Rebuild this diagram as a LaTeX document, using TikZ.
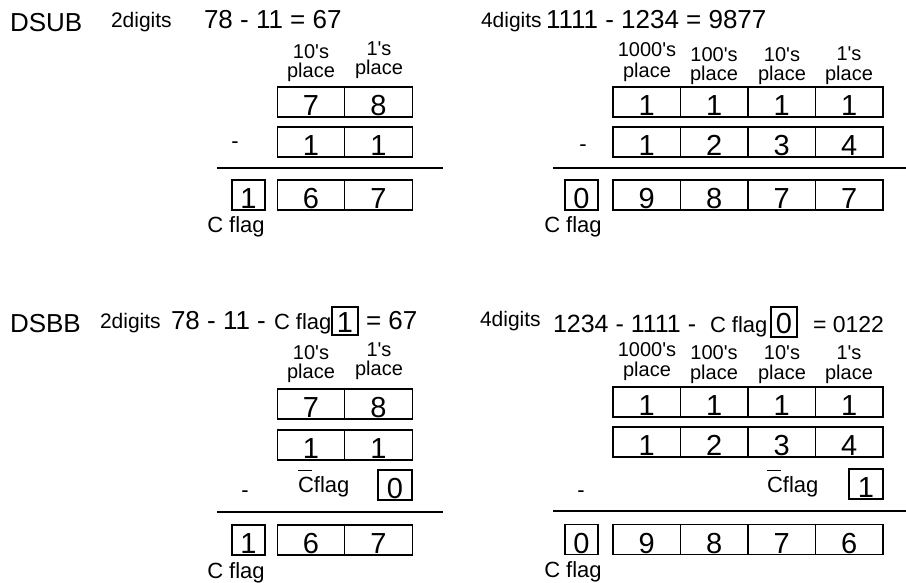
\documentclass[tikz,border=0pt]{standalone}
\usepackage{fontspec}
\setmainfont{Liberation Sans}[Ligatures=TeXOff]
\begin{document}
\begin{tikzpicture}[x=1pt,y=-1pt,
  t/.style={inner sep=0pt, outer sep=0pt},
  big/.style={t, font=\fontsize{26}{30}\selectfont},
  small/.style={t, font=\fontsize{22}{25}\selectfont},
  digl/.style={t, anchor=base west, font=\fontsize{21}{25}\selectfont},
  lab/.style={t, anchor=base, font=\fontsize{20}{24}\selectfont},
  cell/.style={draw, line width=1.4pt, minimum width=67.5pt, minimum height=30pt, inner sep=0pt,
    text height=27.5pt, text depth=0pt, font=\fontsize{29}{30}\selectfont},
  cbox/.style={cell, minimum width=33pt},
  ebox/.style={draw, line width=1.4pt, minimum width=26pt, inner sep=0pt,
    text height=22pt, text depth=0pt, font=\fontsize{29}{30}\selectfont},
  rulel/.style={line width=1.6pt},
  bartext/.style={small, anchor=base west}
]
\useasboundingbox (0,0) rectangle (906,583);
\fill[white] (0,0) rectangle (906,583);
\newcommand{\barC}{\rlap{\raisebox{21pt}{\rule{14pt}{0.8pt}}}C}

% ---------------- top left: DSUB 2 digits ----------------
\node[big, anchor=base west] (dsub) at (10,32) {DSUB};
\node[digl] (dga) at (111,28) {2digits};
\node[big, anchor=base west] (eqa) at (204,29) {78 - 11 = 67};
\node[lab] (la1) at (311,59) {10's};
\node[lab] (la1p) at (311,78) {place};
\node[lab] (la2) at (379,56) {1's};
\node[lab] (la2p) at (379,75) {place};
\node[cell] (a11) at (311,102) {7};
\node[cell] (a12) at (378.5,102) {8};
\node[cell] (a21) at (311,142) {1};
\node[cell] (a22) at (378.5,142) {1};
\node[small, anchor=base] (ma) at (235,148.5) {-};
\coordinate (ra1) at (217,168);
\coordinate (ra2) at (443,168);
\draw[rulel] (ra1) -- (ra2);
\node[cbox] (ac) at (248.5,195) {1};
\node[cell] (a31) at (311,195) {6};
\node[cell] (a32) at (378.5,195) {7};
\node[small, anchor=base] (acf) at (236,233) {C flag};

% ---------------- top right: DSUB 4 digits ----------------
\node[digl] (dgb) at (481,28) {4digits};
\node[big, anchor=base west] (eqb) at (546,29) {1111 - 1234 = 9877};
\node[lab] (lb1) at (647,57) {1000's};
\node[lab] (lb1p) at (647,78) {place};
\node[lab] (lb2) at (714,62) {100's};
\node[lab] (lb2p) at (714,81) {place};
\node[lab] (lb3) at (782,62) {10's};
\node[lab] (lb3p) at (782,81) {place};
\node[lab] (lb4) at (849,61) {1's};
\node[lab] (lb4p) at (849,81) {place};
\node[cell] (b11) at (646.75,102) {1};
\node[cell] (b12) at (714.25,102) {1};
\node[cell] (b13) at (781.75,102) {1};
\node[cell] (b14) at (849.25,102) {1};
\node[cell] (b21) at (646.75,142) {1};
\node[cell] (b22) at (714.25,142) {2};
\node[cell] (b23) at (781.75,142) {3};
\node[cell] (b24) at (849.25,142) {4};
\node[small, anchor=base] (mb) at (583,152) {-};
\coordinate (rb1) at (553,168);
\coordinate (rb2) at (906,168);
\draw[rulel] (rb1) -- (rb2);
\node[cbox] (bc) at (581.5,195) {0};
\node[cell] (b31) at (646.75,195) {9};
\node[cell] (b32) at (714.25,195) {8};
\node[cell] (b33) at (781.75,195) {7};
\node[cell] (b34) at (849.25,195) {7};
\node[small, anchor=base] (bcf) at (573,233) {C flag};

% ---------------- bottom left: DSBB 2 digits ----------------
\node[big, anchor=base west] (dsbb) at (10,332) {DSBB};
\node[digl] (dgc) at (100,328) {2digits};
\node[big, anchor=base west] (eqc1) at (171,329) {78 - 11 -};
\node[small, anchor=base west] (eqc2) at (274,329) {C flag};
\node[ebox, minimum height=28pt] (eqc3) at (345,321) {1};
\node[big, anchor=base west] (eqc4) at (366,329) {= 67};
\node[lab] (lc1) at (311,359) {10's};
\node[lab] (lc1p) at (311,378) {place};
\node[lab] (lc2) at (379,356) {1's};
\node[lab] (lc2p) at (379,375) {place};
\node[cell] (c11) at (311,404) {7};
\node[cell] (c12) at (378.5,404) {8};
\node[cell] (c21) at (311,445) {1};
\node[cell] (c22) at (378.5,445) {1};
\node[bartext] (ccf) at (298,492) {\barC flag};
\node[cbox, minimum width=34pt] (ccb) at (395,485) {0};
\node[small, anchor=base] (mc) at (245,497.5) {-};
\coordinate (rc1) at (217,512);
\coordinate (rc2) at (443,512);
\draw[rulel] (rc1) -- (rc2);
\node[cbox] (cc) at (248.5,540) {1};
\node[cell] (c31) at (311,540) {6};
\node[cell] (c32) at (378.5,540) {7};
\node[small, anchor=base] (ccf2) at (236,578) {C flag};

% ---------------- bottom right: DSBB 4 digits ----------------
\node[digl] (dgd) at (480,326) {4digits};
\node[big, anchor=base west, font=\fontsize{25}{30}\selectfont] (eqd1) at (553,332) {1234 - 1111 -};
\node[small, anchor=base west] (eqd2) at (710,332) {C flag};
\node[ebox, minimum height=30pt] (eqd3) at (784,322) {0};
\node[big, anchor=base west, font=\fontsize{23}{28}\selectfont] (eqd4) at (813,332) {= 0122};
\node[lab] (ld1) at (647,356) {1000's};
\node[lab] (ld1p) at (647,376) {place};
\node[lab] (ld2) at (714,359) {100's};
\node[lab] (ld2p) at (714,379) {place};
\node[lab] (ld3) at (782,359) {10's};
\node[lab] (ld3p) at (782,379) {place};
\node[lab] (ld4) at (849,359) {1's};
\node[lab] (ld4p) at (849,379) {place};
\node[cell] (d11) at (646.75,402) {1};
\node[cell] (d12) at (714.25,402) {1};
\node[cell] (d13) at (781.75,402) {1};
\node[cell] (d14) at (849.25,402) {1};
\node[cell] (d21) at (646.75,442) {1};
\node[cell] (d22) at (714.25,442) {2};
\node[cell] (d23) at (781.75,442) {3};
\node[cell] (d24) at (849.25,442) {4};
\node[bartext] (dcf) at (767,492) {\barC flag};
\node[cbox, minimum width=34pt] (dcb) at (866,484) {1};
\node[small, anchor=base] (md) at (581,497.5) {-};
\coordinate (rd1) at (553,511);
\coordinate (rd2) at (906,511);
\draw[rulel] (rd1) -- (rd2);
\node[cbox] (dc) at (581.5,539.5) {0};
\node[cell] (d31) at (646.75,539.5) {9};
\node[cell] (d32) at (714.25,539.5) {8};
\node[cell] (d33) at (781.75,539.5) {7};
\node[cell] (d34) at (849.25,539.5) {6};
\node[small, anchor=base] (dcf2) at (573,577) {C flag};
\end{tikzpicture}
\end{document}
